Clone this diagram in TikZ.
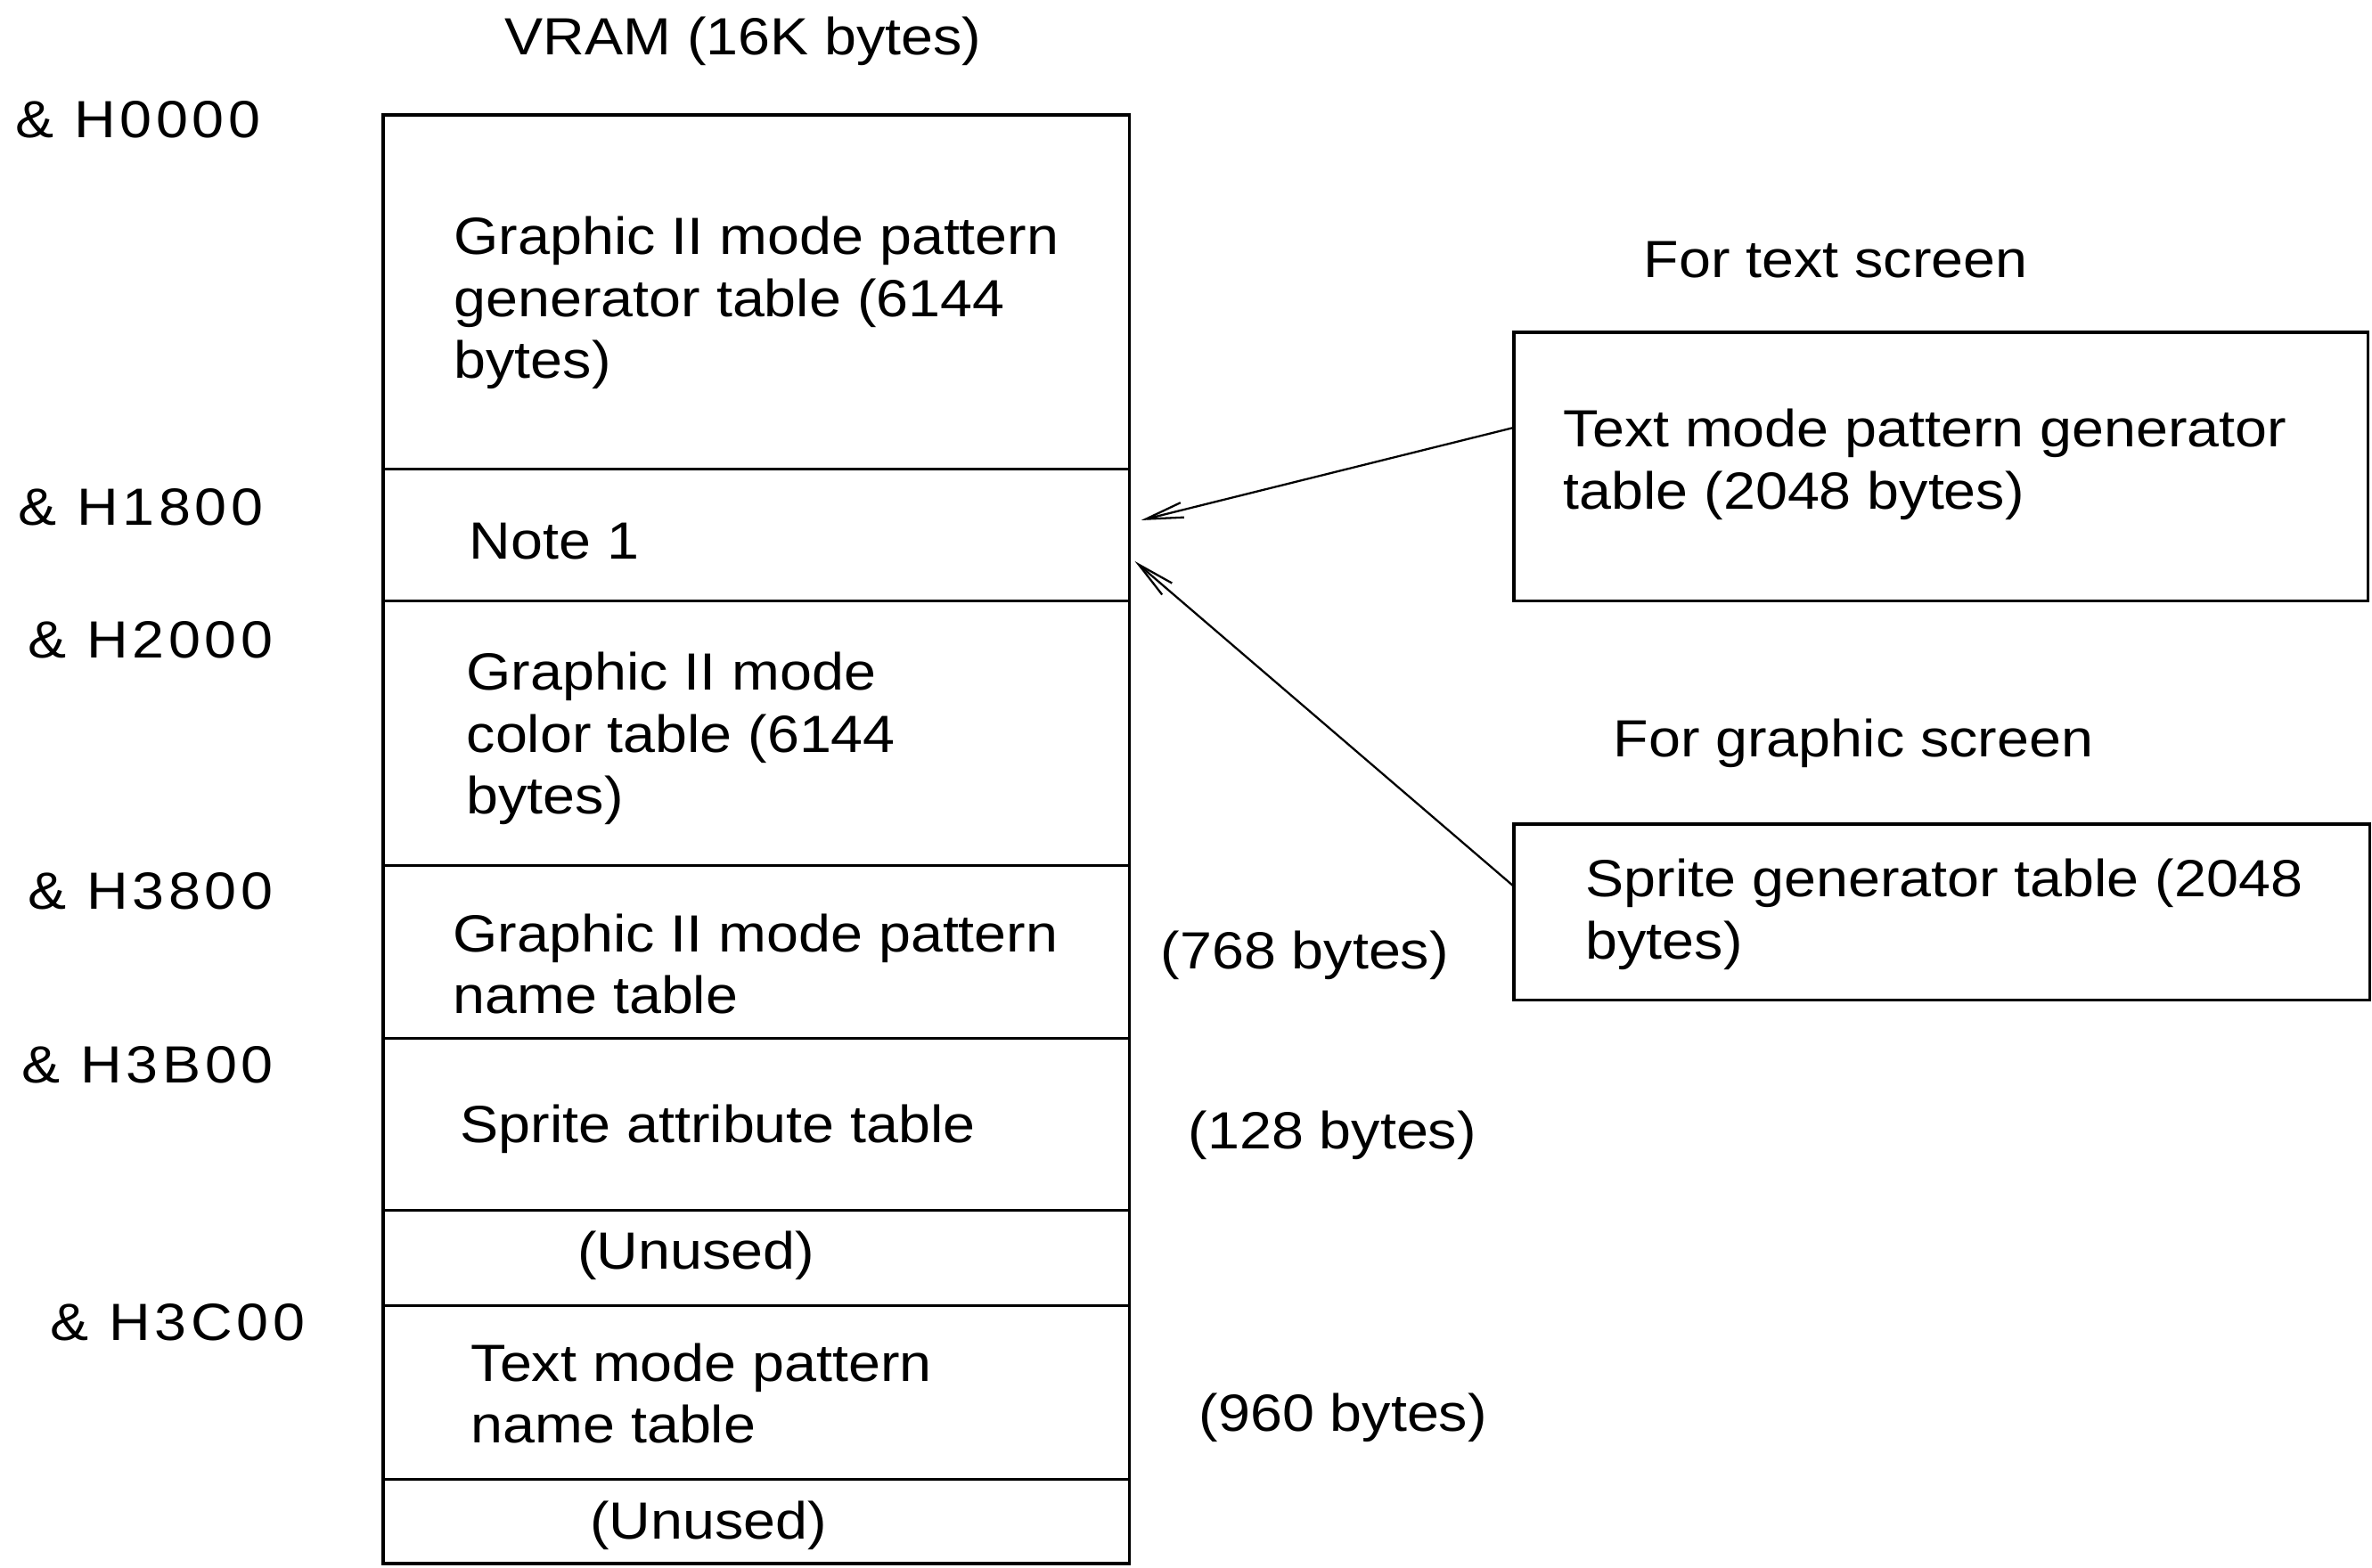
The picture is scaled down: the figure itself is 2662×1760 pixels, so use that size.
\documentclass[tikz,border=0pt]{standalone}
\usepackage{fontspec}
\setmainfont{Liberation Sans}[FakeStretch=1.1]
\newfontfamily\addrfont{Liberation Sans}[FakeStretch=1.1, LetterSpace=8]
\usetikzlibrary{arrows.meta,calc}
\tikzset{
  txt/.style={inner sep=0pt, align=left, anchor=west, font=\fontsize{16.7}{19.8}\selectfont},
  addr/.style={inner sep=0pt, anchor=west, font=\addrfont\fontsize{16.7}{19.8}\selectfont},
  ctxt/.style={inner sep=0pt, anchor=center, font=\fontsize{16.7}{19.8}\selectfont},
  cell/.style={draw, line width=0.9pt, minimum width=8.37cm, inner sep=0pt, outer sep=0pt, anchor=north west},
  sidebox/.style={draw, line width=0.9pt, inner sep=0pt, outer sep=0pt, anchor=north west},
  ptr/.style={line width=0.65pt, -{Straight Barb[length=4.2mm,width=1.7mm]}}
}
\begin{document}
\begin{tikzpicture}[x=0.01cm,y=-0.01cm]
\useasboundingbox (0,0) rectangle (2662,1760);
% title
\node[ctxt] (title) at (834,46) {VRAM (16K bytes)};
% addresses
\node[addr] (a0) at (17,134) {\& H0000};
\node[addr] (a1) at (20,569) {\& H1800};
\node[addr] (a2) at (31,718) {\& H2000};
\node[addr] (a3) at (31,1000) {\& H3800};
\node[addr] (a4) at (24,1195) {\& H3B00};
\node[addr] (a5) at (56,1484) {\& H3C00};
% stack cells
\node[cell, minimum height=3.97cm] (c1) at (430,129) {};
\node[cell, minimum height=1.48cm] (c2) at (c1.south west) {};
\node[cell, minimum height=2.97cm] (c3) at (c2.south west) {};
\node[cell, minimum height=1.94cm] (c4) at (c3.south west) {};
\node[cell, minimum height=1.93cm] (c5) at (c4.south west) {};
\node[cell, minimum height=1.07cm] (c6) at (c5.south west) {};
\node[cell, minimum height=1.95cm] (c7) at (c6.south west) {};
\node[cell, minimum height=0.94cm] (c8) at (c7.south west) {};
% cell texts
\node[txt] (t1) at (509,340) {Graphic II mode pattern\\generator table (6144\\bytes)};
\node[txt] (t2) at (526,608) {Note 1};
\node[txt] (t3) at (523,829) {Graphic II mode\\color table (6144\\bytes)};
\node[txt] (t4) at (508,1082) {Graphic II mode pattern\\name table};
\node[txt] (t5) at (516,1267) {Sprite attribute table};
\node[ctxt] (t6) at (781,1409) {(Unused)};
\node[txt] (t7) at (528,1564) {Text mode pattern\\name table};
\node[ctxt] (t8) at (795,1712) {(Unused)};
% sizes
\node[txt] (s1) at (1302,1072) {(768 bytes)};
\node[txt] (s2) at (1333,1274) {(128 bytes)};
\node[txt] (s3) at (1345,1591) {(960 bytes)};
% right side
\node[txt] (h1) at (1844,292) {For text screen};
\node[sidebox, minimum width=9.58cm, minimum height=3.01cm] (tbox) at (1699,373) {};
\node[txt] (tt) at (1754,521) {Text mode pattern generator\\table (2048 bytes)};
\node[txt] (h2) at (1810,834) {For graphic screen};
\node[sidebox, minimum width=9.60cm, minimum height=1.97cm] (sbox) at (1699,925) {};
\node[txt] (st) at (1779,1026) {Sprite generator table (2048\\bytes)};
% arrows
\draw[ptr] ($(tbox.north west)!0.355!(tbox.south west)$) -- ([xshift=0.13cm]$(c2.north east)!0.39!(c2.south east)$);
\draw[ptr] ($(sbox.north west)!0.355!(sbox.south west)$) -- ([xshift=0.06cm]$(c2.north east)!0.70!(c2.south east)$);
\end{tikzpicture}
\end{document}
